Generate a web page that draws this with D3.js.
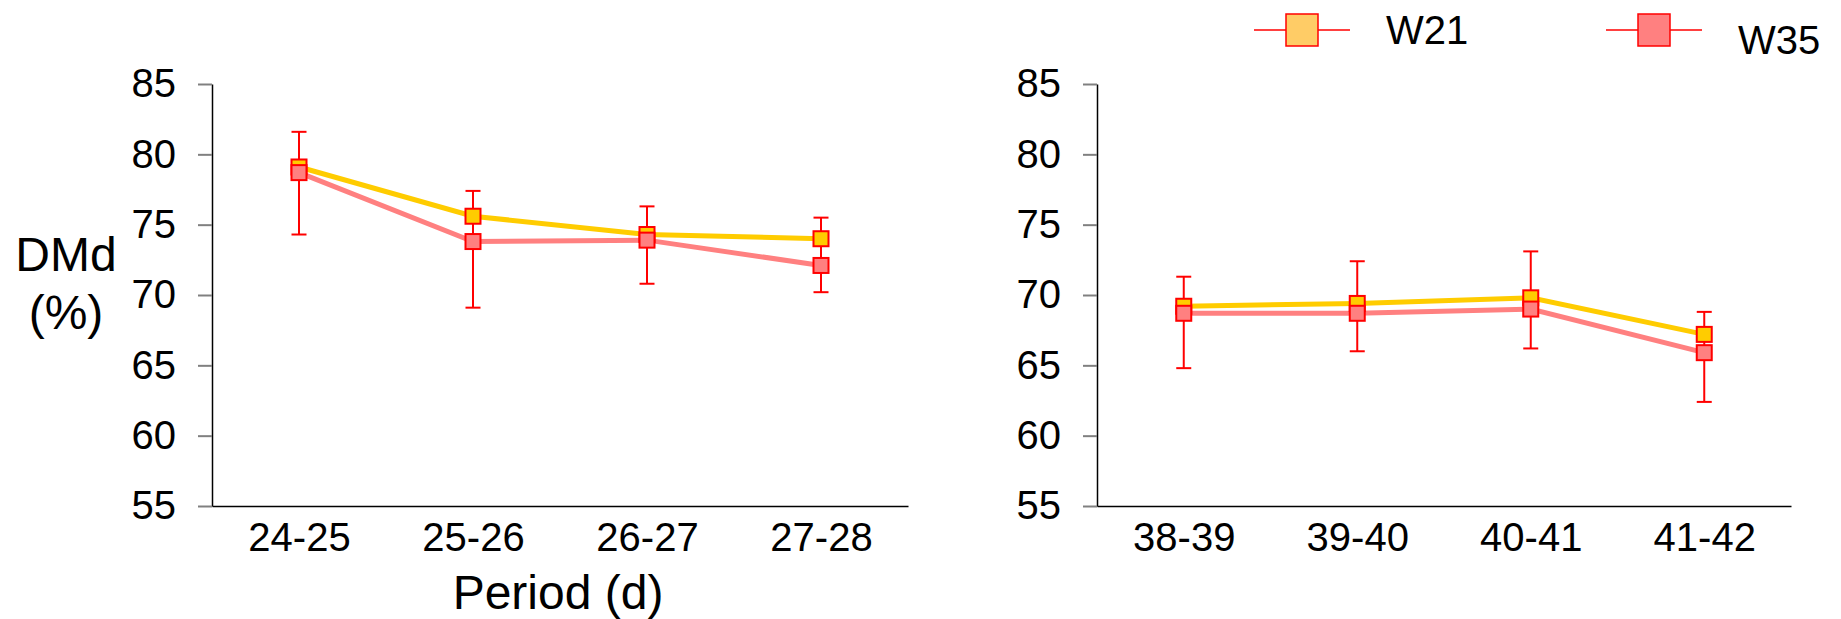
<!DOCTYPE html>
<html>
<head>
<meta charset="utf-8">
<script src="https://cdn.jsdelivr.net/npm/d3@7"></script>
<style>
  body { margin: 0; background: #fff; }
  svg text { font-family: "Liberation Sans", Arial, sans-serif; fill: #000; }
</style>
</head>
<body>
<div id="chart"></div>
<script>
const width = 1841, height = 619;

// data
const periodsA = ["24-25", "25-26", "26-27", "27-28"];
const periodsB = ["38-39", "39-40", "40-41", "41-42"];
const yTicks = [55, 60, 65, 70, 75, 80, 85];

const w21A = [79.1, 75.6, 74.3, 74.0];
const w35A = [78.7, 73.8, 73.9, 72.1];
const w21UpA = [81.6, 77.4, 76.3, 75.5];
const w35LowA = [74.3, 69.1, 70.8, 70.2];

const w21B = [69.2, 69.4, 69.8, 67.2];
const w35B = [68.7, 68.7, 69.0, 65.9];
const w21UpB = [71.3, 72.4, 73.1, 68.8];
const w35LowB = [64.8, 66.0, 66.2, 62.4];

const seriesNames = ["W21", "W35"];
const lineColors = ["#FFCC00", "#FF8080"];
const legendFill = ["#FFCC66", "#FF8080"];

const svg = d3.select("#chart").append("svg")
    .attr("width", width)
    .attr("height", height);

const y = d3.scaleLinear().domain([55, 85]).range([506, 84]);

function panel(cats, a, b, up, low, x0, x1) {
  const g = svg.append("g");
  const x = d3.scalePoint().domain(cats).range([x0, x1]).padding(0.5);

  // y axis
  const ya = g.append("g")
      .attr("transform", `translate(${x0},0)`)
      .call(d3.axisLeft(y).tickValues(yTicks).tickSize(14).tickSizeOuter(0).tickPadding(22));
  ya.select(".domain").attr("stroke", "#000").attr("stroke-width", 1.5);
  ya.selectAll(".tick line").attr("stroke", "#808080").attr("stroke-width", 2);
  ya.selectAll(".tick text").style("font-size", "40px").attr("font-family", null);

  // x axis
  const xa = g.append("g")
      .attr("transform", `translate(0,${y(55)})`)
      .call(d3.axisBottom(x).tickSize(0).tickSizeOuter(0).tickPadding(16));
  xa.select(".domain").attr("stroke", "#000").attr("stroke-width", 1.5);
  xa.selectAll(".tick text").style("font-size", "40px").attr("font-family", null)
      .attr("y", 0).attr("dy", "45px");

  const line = d3.line().x((d, i) => x(cats[i])).y(d => y(d));
  [a, b].forEach((s, k) => {
    g.append("path").datum(s)
      .attr("d", line)
      .attr("fill", "none")
      .attr("stroke", lineColors[k])
      .attr("stroke-width", 5);
  });

  // error bars: upward for W21, downward for W35
  const cap = 7.5;
  cats.forEach((c, i) => {
    const cx = x(c);
    g.append("line").attr("x1", cx).attr("x2", cx)
      .attr("y1", y(up[i])).attr("y2", y(low[i]))
      .attr("stroke", "#FF0000").attr("stroke-width", 2);
    [up[i], low[i]].forEach(v => {
      g.append("line").attr("x1", cx - cap).attr("x2", cx + cap)
        .attr("y1", y(v)).attr("y2", y(v))
        .attr("stroke", "#FF0000").attr("stroke-width", 2);
    });
  });

  const sz = 15;
  [a, b].forEach((s, k) => {
    g.selectAll(null).data(s).enter().append("rect")
      .attr("x", (d, i) => x(cats[i]) - sz / 2)
      .attr("y", d => y(d) - sz / 2)
      .attr("width", sz)
      .attr("height", sz)
      .attr("fill", lineColors[k])
      .attr("stroke", "#FF0000")
      .attr("stroke-width", 2);
  });
}

panel(periodsA, w21A, w35A, w21UpA, w35LowA, 212, 908);
panel(periodsB, w21B, w35B, w21UpB, w35LowB, 1097, 1791);

// axis titles
svg.append("text").attr("x", 66).attr("y", 271)
  .attr("text-anchor", "middle").style("font-size", "48px").text("DMd");
svg.append("text").attr("x", 66).attr("y", 329)
  .attr("text-anchor", "middle").style("font-size", "48px").text("(%)");
svg.append("text").attr("x", 558).attr("y", 609)
  .attr("text-anchor", "middle").style("font-size", "48px").text("Period (d)");

// legend
const legendX = [1302, 1654];
const legendTextY = [44, 54];
seriesNames.forEach((name, k) => {
  const lg = svg.append("g").attr("transform", `translate(${legendX[k]},30)`);
  lg.append("line").attr("x1", -48).attr("x2", 48)
    .attr("stroke", "#FF0000").attr("stroke-width", 1.5);
  lg.append("rect").attr("x", -16).attr("y", -16)
    .attr("width", 32).attr("height", 32)
    .attr("fill", legendFill[k]).attr("stroke", "#FF0000").attr("stroke-width", 1.5);
  svg.append("text").attr("x", legendX[k] + 84).attr("y", legendTextY[k])
    .style("font-size", "40px").text(name);
});
</script>
</body>
</html>
